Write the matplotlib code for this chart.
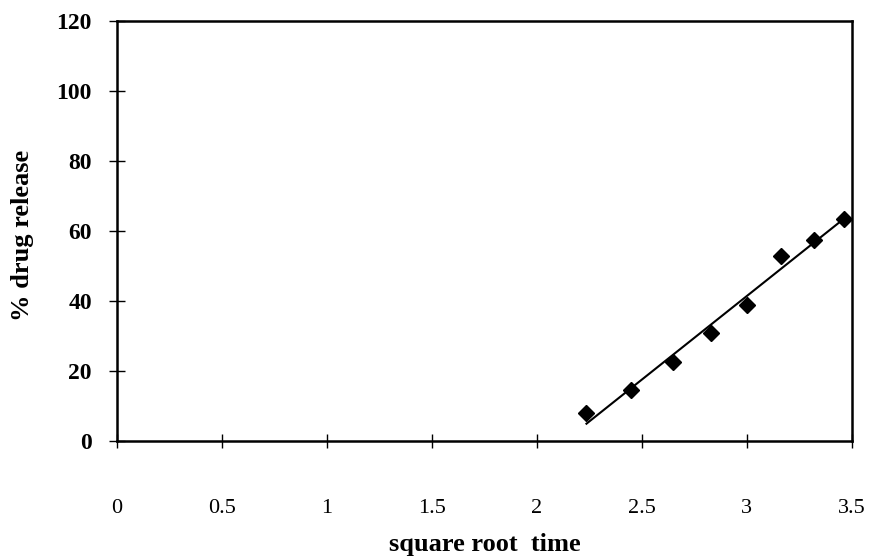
import numpy as np
import matplotlib
matplotlib.use('Agg')
import matplotlib.pyplot as plt

# data
sqrt_time = [2.236, 2.449, 2.646, 2.828, 3.0, 3.162, 3.317, 3.464]
release = [8.0, 14.5, 22.5, 31.0, 39.0, 53.0, 57.5, 63.5]

x_ticks = [0, 0.5, 1, 1.5, 2, 2.5, 3, 3.5]
x_tick_labels = ['0', '0.5', '1', '1.5', '2', '2.5', '3', '3.5']
y_ticks = [0, 20, 40, 60, 80, 100, 120]

plt.rcParams['font.family'] = ['Liberation Serif', 'DejaVu Serif']

fig = plt.figure(figsize=(8.72, 5.57), dpi=100)
ax = fig.add_axes([0.134, 0.208, 0.843, 0.754])

x = np.array(sqrt_time)
y = np.array(release)

# linear fit through the points
slope, intercept = np.polyfit(x, y, 1)
ax.plot(x, slope * x + intercept, color='black', linewidth=1.5)
ax.plot(x, y, linestyle='none', marker='D', markersize=8.5, color='black')

ax.set_xlim(0, 3.5)
ax.set_ylim(0, 120)
ax.set_xticks(x_ticks)
ax.set_xticklabels(x_tick_labels)
ax.set_yticks(y_ticks)

for side in ['top', 'bottom', 'left', 'right']:
    ax.spines[side].set_linewidth(1.8)

ax.tick_params(axis='x', direction='inout', length=10, width=1.0,
               pad=37, labelsize=16)
ax.tick_params(axis='y', direction='inout', length=12, width=1.0,
               pad=12, labelsize=17)
for lab in ax.get_yticklabels():
    lab.set_fontweight('bold')

ax.set_xlabel('square root  time', fontsize=19, fontweight='bold')
ax.xaxis.set_label_coords(0.5, -0.218)
ax.set_ylabel('% drug release', fontsize=19, fontweight='bold')
ax.yaxis.set_label_coords(-0.113, 0.49)

fig.savefig('out.png', dpi=100)
